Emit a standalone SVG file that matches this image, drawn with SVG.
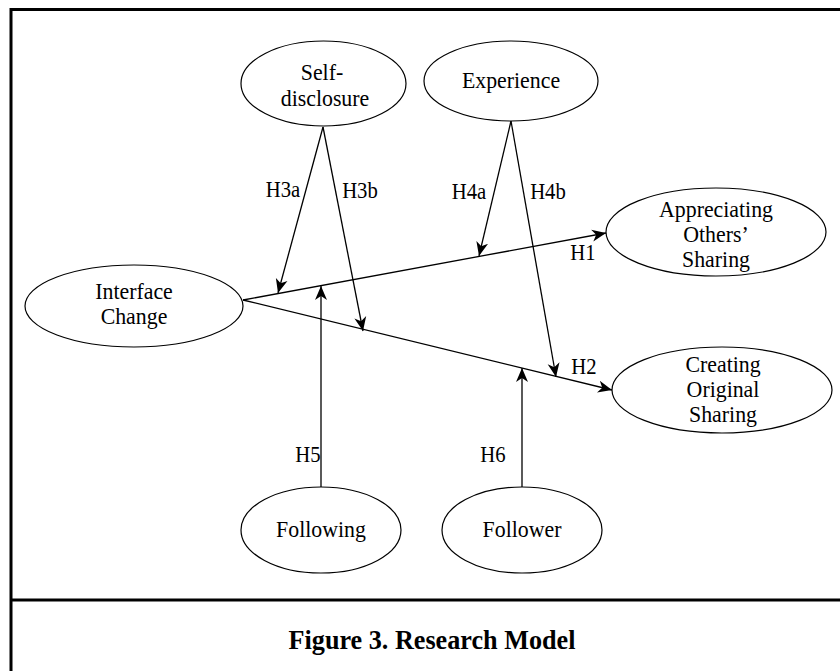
<svg xmlns="http://www.w3.org/2000/svg" width="840" height="671" viewBox="0 0 840 671">
<style>
.node ellipse{fill:#fff;stroke:#000;stroke-width:1.2}
.lbl,.hl,.cap{font-family:"Liberation Serif","Times New Roman",serif;fill:#000;text-anchor:middle;transform-box:fill-box;transform-origin:center}
.lbl{font-size:24px;transform:scaleX(0.91)}
.hl{font-size:23px;transform:scaleX(0.9)}
.cap{font-size:27px;font-weight:bold;transform:scaleX(0.97)}
.edge{stroke:#000;stroke-width:1.3;fill:none;marker-end:url(#arr)}
.frame{stroke:#000;stroke-width:3;fill:none}
</style>
<defs>
<marker id="arr" markerUnits="userSpaceOnUse" markerWidth="16" markerHeight="14" viewBox="-14 -7 16 14" refX="0" refY="0" orient="auto">
<path d="M-14,-6 L0,0 L-14,6 L-10,0 Z" fill="#000"/>
</marker>
</defs>
<rect width="840" height="671" fill="#fff"/>
<g id="frame">
<path class="frame" d="M11,671 L11,9.5 L842,9.5"/>
<line class="frame" x1="11" y1="600" x2="842" y2="600"/>
</g>
<g id="connectors">
<line class="edge" x1="243" y1="300" x2="606" y2="233"/>
<line class="edge" x1="243" y1="300" x2="612" y2="390"/>
<line class="edge" x1="323" y1="127" x2="278" y2="293"/>
<line class="edge" x1="323" y1="127" x2="363" y2="331"/>
<line class="edge" x1="511" y1="121" x2="479" y2="256"/>
<line class="edge" x1="511" y1="121" x2="556" y2="377"/>
<line class="edge" x1="321" y1="487" x2="321" y2="286"/>
<line class="edge" x1="522" y1="487" x2="522" y2="368"/>
<text class="hl" x="283" y="197">H3a</text>
<text class="hl" x="360" y="198">H3b</text>
<text class="hl" x="469" y="199">H4a</text>
<text class="hl" x="548" y="199">H4b</text>
<text class="hl" x="583" y="260">H1</text>
<text class="hl" x="584" y="374">H2</text>
<text class="hl" x="308" y="462">H5</text>
<text class="hl" x="493" y="462">H6</text>
</g>
<g id="self-disclosure" class="node">
<ellipse cx="323.5" cy="83.5" rx="82.5" ry="42.5"/>
<text class="lbl" x="322" y="80">Self-</text>
<text class="lbl" x="325" y="106">disclosure</text>
</g>
<g id="experience" class="node">
<ellipse cx="511" cy="81" rx="87" ry="40"/>
<text class="lbl" x="511" y="88">Experience</text>
</g>
<g id="interface-change" class="node">
<ellipse cx="134" cy="306" rx="109" ry="41"/>
<text class="lbl" x="134" y="299">Interface</text>
<text class="lbl" x="134" y="324">Change</text>
</g>
<g id="appreciating" class="node">
<ellipse cx="716" cy="232" rx="110" ry="44"/>
<text class="lbl" x="716" y="217">Appreciating</text>
<text class="lbl" x="716" y="242">Others’</text>
<text class="lbl" x="716" y="267">Sharing</text>
</g>
<g id="creating" class="node">
<ellipse cx="722" cy="390" rx="110" ry="43"/>
<text class="lbl" x="723" y="372">Creating</text>
<text class="lbl" x="723" y="397">Original</text>
<text class="lbl" x="723" y="422">Sharing</text>
</g>
<g id="following" class="node">
<ellipse cx="321" cy="530" rx="80" ry="43"/>
<text class="lbl" x="321" y="537">Following</text>
</g>
<g id="follower" class="node">
<ellipse cx="522" cy="530" rx="80" ry="43"/>
<text class="lbl" x="522" y="537">Follower</text>
</g>
<g id="caption">
<text class="cap" x="432" y="649">Figure 3. Research Model</text>
</g>
</svg>
